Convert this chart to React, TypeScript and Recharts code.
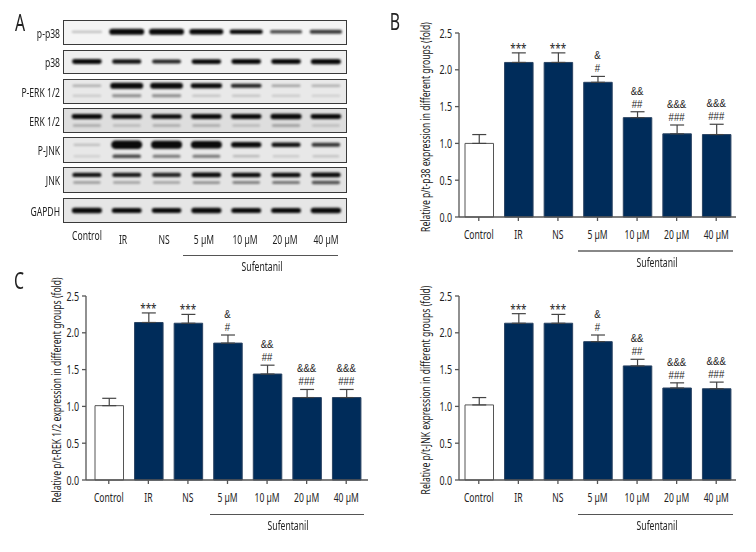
import { Bar, Cell, ComposedChart, ErrorBar, LabelList, Line, Scatter, ScatterChart, XAxis, YAxis, ZAxis } from 'recharts';

// no condensed font is installed, so everything is squeezed horizontally
const FONT = '"Noto Sans", sans-serif';
const MARK_FONT = '"Liberation Sans", sans-serif';
const SQUEEZE = 0.66;
const NAVY = '#002c5a';
const AXIS = '#555';
const INK = '#222';

const groups = ['Control', 'IR', 'NS', '5 µM', '10 µM', '20 µM', '40 µM'];
const yTicks = [0, 0.5, 1, 1.5, 2, 2.5];
const marksTop = ['', '', '', '&', '&&', '&&&', '&&&'];
const marksBottom = ['', '***', '***', '#', '##', '###', '###'];

// bar heights and upper error tops
const p38Values = [1.0, 2.1, 2.1, 1.83, 1.35, 1.13, 1.12];
const p38Tops = [1.12, 2.23, 2.23, 1.91, 1.43, 1.25, 1.26];
const erkValues = [1.01, 2.14, 2.13, 1.86, 1.44, 1.12, 1.12];
const erkTops = [1.11, 2.27, 2.25, 1.97, 1.56, 1.23, 1.23];
const jnkValues = [1.02, 2.13, 2.13, 1.88, 1.55, 1.25, 1.24];
const jnkTops = [1.12, 2.26, 2.25, 1.97, 1.64, 1.32, 1.33];

// blot band strength per lane
const blotNames = ['p-p38', 'p38', 'P-ERK 1/2', 'ERK 1/2', 'P-JNK', 'JNK', 'GAPDH'];
const pp38Upper = [0.14, 1, 1, 0.8, 0.65, 0.45, 0.5];
const p38Upper = [0.72, 0.6, 0.55, 0.68, 0.7, 0.72, 0.8];
const perkUpper = [0.16, 1, 0.95, 0.7, 0.55, 0.2, 0.16];
const perkLower = [0.1, 0.26, 0.26, 0.12, 0.12, 0.1, 0.08];
const erkUpper = [0.7, 0.68, 0.68, 0.72, 0.7, 0.8, 0.72];
const erkLower = [0.16, 0.14, 0.16, 0.16, 0.14, 0.2, 0.12];
const pjnkUpper = [0.12, 1.5, 1.4, 1.3, 0.85, 0.6, 0.5];
const pjnkLower = [0.08, 0.45, 0.32, 0.32, 0.14, 0.1, 0.12];
const jnkUpper = [0.6, 0.58, 0.55, 0.65, 0.62, 0.62, 0.7];
const jnkLower = [0.22, 0.2, 0.2, 0.24, 0.28, 0.32, 0.42];
const gapdhUpper = [0.8, 0.75, 0.72, 0.8, 0.75, 0.75, 0.85];

function Label({ x, y, size, anchor = 'middle', rotate = 0, squeeze = SQUEEZE, children }: any) {
  const shift = anchor === 'end' ? '-100%' : '-50%';
  const origin = anchor === 'end' ? 'right center' : 'center center';
  return (
    <div
      style={{
        position: 'absolute',
        left: x,
        top: y,
        fontSize: size,
        lineHeight: 1,
        fontFamily: FONT,
        color: INK,
        whiteSpace: 'nowrap',
        transformOrigin: '0 0',
        transform: `translate(${shift}, -50%)`,
      }}
    >
      <div style={{ transformOrigin: origin, transform: `rotate(${rotate}deg) scaleX(${squeeze})` }}>{children}</div>
    </div>
  );
}

function Band(props: any) {
  const { cx, cy, payload } = props;
  const s = payload.strength;
  const w = payload.width * (0.85 + 0.15 * Math.min(s, 1));
  const h = 1.6 + 4.6 * s;
  return (
    <rect
      x={cx - w / 2}
      y={cy - h / 2}
      width={w}
      height={h}
      rx={h / 2}
      fill="#0a0a0a"
      opacity={Math.min(1, 1.6 * s)}
      style={{ filter: 'blur(1px)' }}
    />
  );
}

interface BlotProps {
  name: string;
  top: number;
  height: number;
  upper: number[];
  upperY: number;
  lower?: number[];
  lowerY?: number;
  bg: string;
  bandWidth: number;
}

function Blot({ name, top, height, upper, upperY, lower, lowerY, bg, bandWidth }: BlotProps) {
  const bands = upper.map((strength, lane) => ({ lane, y: upperY, strength, width: bandWidth }));
  if (lower) lower.forEach((strength, lane) => bands.push({ lane, y: lowerY as number, strength, width: bandWidth }));
  return (
    <>
      <Label x={60} y={top + height / 2 + 0.5} size={13} anchor="end">{name}</Label>
      <div
        style={{
          position: 'absolute',
          left: 63,
          top,
          width: 284,
          height,
          background: bg,
          boxShadow: 'inset 0 0 0 1px #3a3a3a',
        }}
      >
        <ScatterChart width={284} height={height} margin={{ top: 0, right: 0, bottom: 0, left: 0 }}>
          <XAxis type="number" dataKey="lane" domain={[-0.6, 6.53]} hide />
          <YAxis type="number" dataKey="y" domain={[0, 1]} reversed hide />
          <ZAxis range={[10, 10]} />
          <Scatter data={bands} shape={Band} isAnimationActive={false} />
        </ScatterChart>
      </div>
    </>
  );
}

function MarkLabel(props: any) {
  const { x, y, index } = props;
  const top = marksTop[index];
  const bottom = marksBottom[index];
  if (bottom === '***') {
    return (
      <text transform={`translate(${x},${y}) scale(0.76,1)`} fontFamily={FONT} fontSize={13} fill={INK} textAnchor="middle">
        {bottom}
      </text>
    );
  }
  return (
    <g fontFamily={MARK_FONT} fontSize={11.2} fill={INK} textAnchor="middle">
      <text transform={`translate(${x},${y - 4}) scale(0.86,1)`}>{bottom}</text>
      <text transform={`translate(${x},${y - 17}) scale(0.86,1)`}>{top}</text>
    </g>
  );
}

function XTick({ x, y, payload }: any) {
  return (
    <text
      transform={`translate(${x},${y + 14}) scale(${SQUEEZE},1)`}
      textAnchor="middle"
      fontFamily={FONT}
      fontSize={13}
      fill={INK}
    >
      {payload.value}
    </text>
  );
}

function YTick({ x, y, payload }: any) {
  return (
    <text
      transform={`translate(${x},${y + 4.5}) scale(${SQUEEZE},1)`}
      textAnchor="end"
      fontFamily={FONT}
      fontSize={13.5}
      fill={INK}
    >
      {payload.value.toFixed(1)}
    </text>
  );
}

interface PanelProps {
  left: number;
  top: number;
  plotWidth: number;
  values: number[];
  tops: number[];
  padLeft: number;
  padRight: number;
}

function Panel({ left, top, plotWidth, values, tops, padLeft, padRight }: PanelProps) {
  const data = groups.map((group, i) => ({
    group,
    value: values[i],
    err: [0, +(tops[i] - values[i]).toFixed(2)],
    errTop: tops[i],
  }));
  return (
    <div style={{ position: 'absolute', left, top }}>
      <ComposedChart
        width={plotWidth + 30}
        height={226}
        data={data}
        margin={{ top: 10, right: 0, bottom: 10, left: 0 }}
      >
        <XAxis
          dataKey="group"
          interval={0}
          padding={{ left: padLeft, right: padRight }}
          tickSize={4}
          tickMargin={4}
          height={22}
          stroke={AXIS}
          strokeWidth={1.3}
          tick={XTick}
        />
        <YAxis
          type="number"
          domain={[0, 2.5]}
          ticks={yTicks}
          interval={0}
          width={30}
          tickSize={4}
          tickMargin={3}
          stroke={AXIS}
          strokeWidth={1.3}
          tick={YTick}
        />
        <Bar dataKey="value" barSize={28.5} isAnimationActive={false} strokeWidth={1}>
          {data.map((d, i) => (
            <Cell key={d.group} fill={i === 0 ? '#fff' : NAVY} stroke={i === 0 ? '#555' : '#2a4362'} />
          ))}
          <ErrorBar dataKey="err" width={7} stroke="#444" strokeWidth={1.2} direction="y" isAnimationActive={false} />
        </Bar>
        <Line dataKey="errTop" stroke="none" dot={false} isAnimationActive={false} legendType="none">
          <LabelList dataKey="errTop" content={MarkLabel} />
        </Line>
      </ComposedChart>
    </div>
  );
}

function Bracket({ x1, x2, y, color, thick, tx, ty }: { x1: number; x2: number; y: number; color: string; thick: number; tx: number; ty: number }) {
  return (
    <>
      <div style={{ position: 'absolute', left: x1, top: y, width: x2 - x1, height: thick, background: color }} />
      <Label x={tx} y={ty} size={13}>Sufentanil</Label>
    </>
  );
}

const blotLaneX = [87, 123, 164, 204, 245, 285, 326];

export default function App() {
  return (
    <div style={{ position: 'absolute', left: 0, top: 0, width: 756, height: 552, background: '#fff', overflow: 'hidden' }}>
      <Label x={20} y={22} size={24}>A</Label>
      <Label x={395} y={21} size={24}>B</Label>
      <Label x={19} y={280} size={24}>C</Label>

      <Blot name={blotNames[0]} top={20} height={24.5} upper={pp38Upper} upperY={0.48} bg="#f4f4f4" bandWidth={35} />
      <Blot name={blotNames[1]} top={49.5} height={24} upper={p38Upper} upperY={0.48} bg="#efefef" bandWidth={31} />
      <Blot name={blotNames[2]} top={78.5} height={25} upper={perkUpper} upperY={0.27} lower={perkLower} lowerY={0.67} bg="#e9e9e9" bandWidth={33} />
      <Blot name={blotNames[3]} top={107.5} height={25} upper={erkUpper} upperY={0.34} lower={erkLower} lowerY={0.7} bg="#dedede" bandWidth={32} />
      <Blot name={blotNames[4]} top={136.5} height={26} upper={pjnkUpper} upperY={0.3} lower={pjnkLower} lowerY={0.74} bg="#e8e8e8" bandWidth={31} />
      <Blot name={blotNames[5]} top={167} height={25.5} upper={jnkUpper} upperY={0.31} lower={jnkLower} lowerY={0.61} bg="#e4e4e4" bandWidth={31} />
      <Blot name={blotNames[6]} top={197.5} height={25} upper={gapdhUpper} upperY={0.5} bg="#e6e6e6" bandWidth={31} />

      {groups.map((g, i) => (
        <Label key={g} x={blotLaneX[i]} y={i === 0 ? 235 : 239} size={13}>{g}</Label>
      ))}
      <Bracket x1={183} x2={338} y={254.5} color="#555" thick={1} tx={262} ty={266} />

      <Panel left={429} top={23.3} plotWidth={277} values={p38Values} tops={p38Tops} padLeft={0} padRight={0} />
      <Label x={425} y={127} size={13} rotate={-90}>Relative p/t-p38 expression in different groups (fold)</Label>
      <Bracket x1={578} x2={733} y={250} color="#888" thick={1.5} tx={657} ty={262} />

      <Panel left={56} top={286} plotWidth={282} values={erkValues} tops={erkTops} padLeft={3} padRight={2} />
      <Label x={56} y={390} size={13} rotate={-90}>Relative p/t-REK 1/2 expression in different groups (fold)</Label>
      <Bracket x1={210} x2={364} y={513.5} color="#555" thick={1} tx={288} ty={525} />

      <Panel left={429} top={286} plotWidth={277} values={jnkValues} tops={jnkTops} padLeft={0} padRight={0} />
      <Label x={425} y={390} size={13} rotate={-90}>Relative p/t-JNK expression in different groups (fold)</Label>
      <Bracket x1={578} x2={733} y={513.5} color="#555" thick={1} tx={657} ty={525} />
    </div>
  );
}
